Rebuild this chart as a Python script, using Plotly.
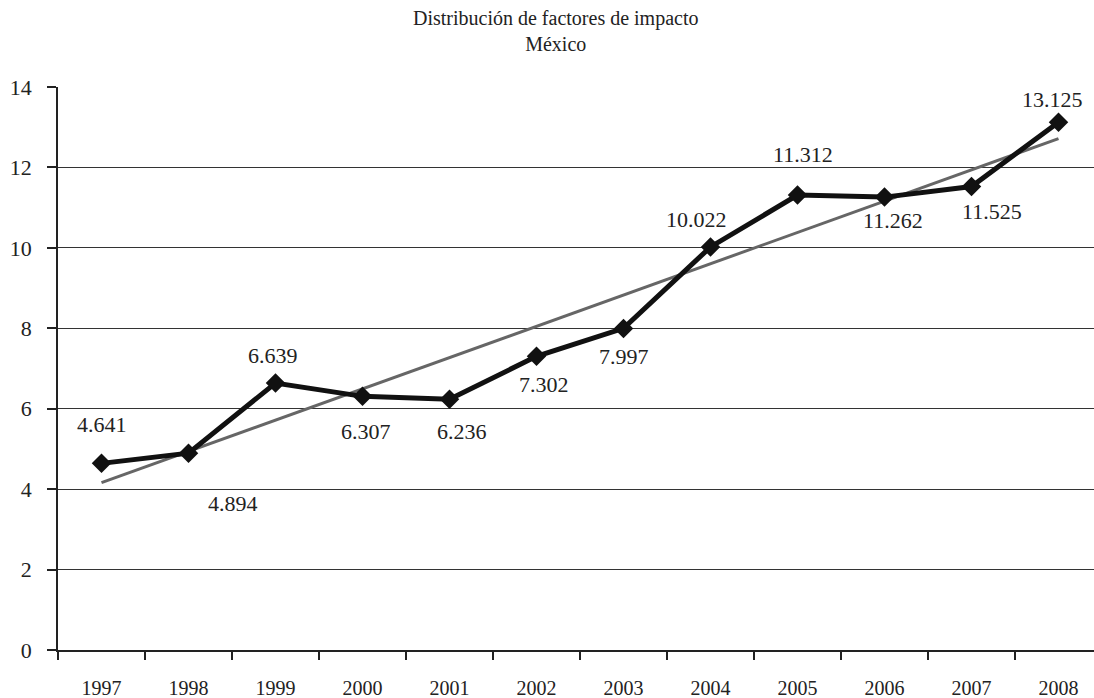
import numpy as np
import plotly.graph_objects as go

years = ["1997", "1998", "1999", "2000", "2001", "2002", "2003", "2004", "2005", "2006", "2007", "2008"]
values = [4.641, 4.894, 6.639, 6.307, 6.236, 7.302, 7.997, 10.022, 11.312, 11.262, 11.525, 13.125]
title_lines = ["Distribución de factores de impacto", "México"]

# label offsets in pixels (dx, dy) relative to each marker - styling only
label_offsets = [(0, 39), (44, -50), (-3, 28), (3, -35), (12, -32), (7, -28),
                 (0, -28), (-14, 27), (5, 41), (8, -23), (20, -25), (-6, 23)]

W, H = 1094, 698
ML, MR, MT, MB = 58, 0, 87, 48

x = np.arange(len(years))
slope, intercept = np.polyfit(x, values, 1)
trend = slope * x + intercept

FONT = "Liberation Serif"
TXT = "#222222"
fig = go.Figure()
fig.add_trace(go.Scatter(x=x, y=trend, mode="lines", line=dict(color="#666666", width=3),
                         showlegend=False, hoverinfo="skip"))
fig.add_trace(go.Scatter(x=x, y=values, mode="lines+markers",
                         line=dict(color="#111111", width=5),
                         marker=dict(symbol="diamond", size=15, color="#111111"),
                         showlegend=False))

for xi, v, (dx, dy) in zip(x, values, label_offsets):
    fig.add_annotation(x=xi, y=v, text=f"{v:.3f}", showarrow=False,
                       xshift=dx, yshift=dy,
                       font=dict(family=FONT, size=22, color=TXT))

# title (two lines in one text)
plot_w = W - ML - MR
plot_h = H - MT - MB
fig.add_annotation(text="<br>".join(title_lines), showarrow=False, xref="paper", yref="paper",
                   x=(555 - ML) / plot_w, y=(H - MB - 31) / plot_h,
                   xanchor="center", yanchor="middle", align="center",
                   font=dict(family=FONT, size=20, color=TXT))

fig.update_layout(
    width=W, height=H,
    margin=dict(l=ML, r=MR, t=MT, b=MB, autoexpand=False),
    paper_bgcolor="white", plot_bgcolor="white",
    font=dict(family=FONT, size=21, color=TXT),
    xaxis=dict(range=[-0.5, -0.5 + plot_w / 87.0], tickmode="array", tickvals=list(x), ticktext=years,
               ticks="outside", ticklen=19, tickcolor="rgba(0,0,0,0)",
               tickfont=dict(family=FONT, size=20, color=TXT),
               showgrid=False, zeroline=False, showline=True, linecolor="#222222", linewidth=1.5,
               minor=dict(tickmode="linear", tick0=-0.5, dtick=1, ticks="outside", ticklen=8,
                          tickwidth=1.5, tickcolor="#222222", showgrid=False)),
    yaxis=dict(range=[0, 14], tickmode="linear", tick0=0, dtick=2,
               ticks="outside", ticklen=9, tickwidth=1.5, tickcolor="#222222",
               ticklabelstandoff=11,
               tickfont=dict(family=FONT, size=22, color=TXT),
               showgrid=True, gridcolor="#333333", gridwidth=1.4, zeroline=False,
               showline=True, linecolor="#222222", linewidth=1.5),
)
fig.write_html("out.html", config={"displayModeBar": False},
               post_script="document.body.style.margin='0px';document.body.style.overflow='hidden';")
